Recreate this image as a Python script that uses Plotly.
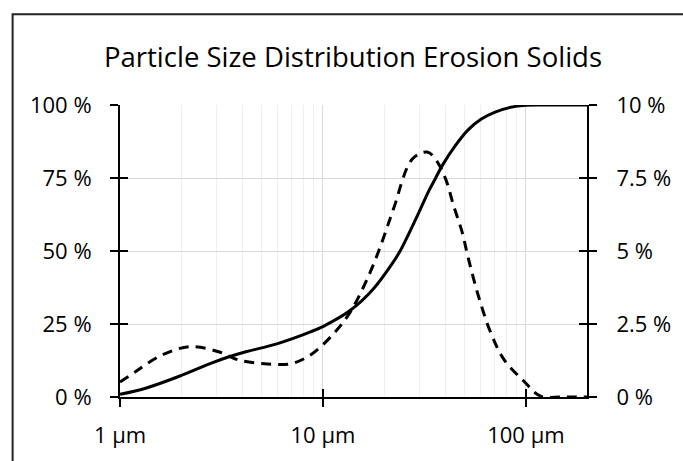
import plotly.graph_objects as go

# Particle diameters (µm) and cumulative passing (%) for the solid curve
cum_size = [1.0, 1.35, 1.96, 2.84, 3.42, 4.13, 5.98, 8.68, 10.1, 13.6, 17.7,
            22.1, 24.0, 28.7, 33.2, 35.6, 38.9, 44.8, 51.9, 60.3, 70.0, 84.0,
            100.0, 120.0, 200.0]
cum_pct = [0.9, 3.1, 7.1, 11.7, 13.7, 15.4, 18.3, 22.3, 24.3, 29.6, 37.0,
           46.0, 50.0, 61.0, 70.5, 74.5, 79.5, 86.0, 91.5, 95.2, 97.5, 99.2,
           99.9, 100.0, 100.0]

# Particle diameters (µm) and frequency (%) for the dashed curve
freq_size = [1.0, 1.2, 1.56, 2.19, 3.06, 3.83, 5.15, 6.94, 8.68, 11.3, 13.6,
             15.8, 18.0, 20.1, 22.4, 27.5, 32.6, 35.9, 40.2, 44.0, 48.4, 52.0,
             58.0, 67.4, 78.2, 97.8, 118.0, 150.0, 200.0]
freq_pct = [0.51, 0.88, 1.39, 1.72, 1.55, 1.27, 1.14, 1.14, 1.44, 2.17, 2.9,
            3.75, 4.65, 5.55, 6.5, 8.14, 8.39, 8.14, 7.47, 6.56, 5.67, 4.76,
            3.52, 2.17, 1.27, 0.54, 0.03, 0.0, 0.0]

x_tickvals = [1, 10, 100]
x_ticktext = ["1 µm", "10 µm", "100 µm"]
left_tickvals = [0, 25, 50, 75, 100]
left_ticktext = ["0 %", "25 %", "50 %", "75 %", "100 %"]
right_tickvals = [0, 2.5, 5, 7.5, 10]
right_ticktext = ["0 %", "2.5 %", "5 %", "7.5 %", "10 %"]

FONT = "Open Sans, Calibri, sans-serif"
W, H = 683, 461
L, R, T, B = 120, 89, 105, 60
XRANGE = [0, 2.30103]

fig = go.Figure()

fig.add_trace(go.Scatter(
    x=cum_size, y=cum_pct, mode="lines", yaxis="y", xaxis="x",
    line=dict(color="black", width=3, shape="spline", smoothing=1.0),
    showlegend=False, hoverinfo="skip"))

fig.add_trace(go.Scatter(
    x=freq_size, y=freq_pct, mode="lines", yaxis="y2", xaxis="x",
    line=dict(color="black", width=3, dash="10px,7px",
              shape="spline", smoothing=1.0),
    showlegend=False, hoverinfo="skip"))

# empty traces that carry the inward half of the crossing tick marks
fig.add_trace(go.Scatter(x=[], y=[], xaxis="x2", yaxis="y3",
                         showlegend=False, hoverinfo="skip"))
fig.add_trace(go.Scatter(x=[], y=[], xaxis="x2", yaxis="y4",
                         showlegend=False, hoverinfo="skip"))

axis_line = dict(showline=True, linecolor="black", linewidth=2,
                 tickcolor="black", tickwidth=2, ticklen=8, zeroline=False)
tick_font = dict(family=FONT, size=22, color="black")

fig.update_layout(
    width=W, height=H,
    margin=dict(l=L, r=R, t=T, b=B),
    paper_bgcolor="white", plot_bgcolor="white",
    font=dict(family=FONT, color="black"),
    title=dict(text="Particle Size Distribution Erosion Solids",
               x=353 / W, xanchor="center", xref="container",
               y=1 - 57 / H, yanchor="middle",
               font=dict(family=FONT, size=27.5, color="black")),
    xaxis=dict(type="log", range=XRANGE, tickmode="array",
               tickvals=x_tickvals, ticktext=x_ticktext, ticks="outside",
               showgrid=True, gridcolor="#d9d9d9", gridwidth=1,
               minor=dict(tickmode="linear", dtick="D1", showgrid=True,
                          gridcolor="#efefef", gridwidth=1, ticks=""),
               tickfont=tick_font, ticklabelstandoff=10, **axis_line),
    xaxis2=dict(type="log", range=XRANGE, overlaying="x", anchor="y",
                side="bottom", tickmode="array", tickvals=x_tickvals,
                ticks="inside", showticklabels=False, showgrid=False,
                **axis_line),
    yaxis=dict(range=[0, 100], tickmode="array", tickvals=left_tickvals,
               ticktext=left_ticktext, ticks="outside", showgrid=True,
               gridcolor="#d9d9d9", gridwidth=1, tickfont=tick_font,
               ticklabelstandoff=14, **axis_line),
    yaxis2=dict(range=[0, 10], overlaying="y", side="right", anchor="x",
                tickmode="array", tickvals=right_tickvals,
                ticktext=right_ticktext, ticks="outside", showgrid=False,
                tickfont=tick_font, ticklabelstandoff=15, **axis_line),
    yaxis3=dict(range=[0, 100], overlaying="y", side="left", anchor="x2",
                tickmode="array", tickvals=left_tickvals, ticks="inside",
                showticklabels=False, showgrid=False, **axis_line),
    yaxis4=dict(range=[0, 10], overlaying="y", side="right", anchor="x2",
                tickmode="array", tickvals=right_tickvals, ticks="inside",
                showticklabels=False, showgrid=False, **axis_line),
    shapes=[dict(type="rect", xref="paper", yref="paper",
                 x0=(11 - L) / (W - L - R), x1=(700 - L) / (W - L - R),
                 y0=(H - B - 480) / (H - T - B), y1=(H - B - 13) / (H - T - B),
                 line=dict(color="#222", width=2), layer="below")],
)

fig.write_html("out.html")
